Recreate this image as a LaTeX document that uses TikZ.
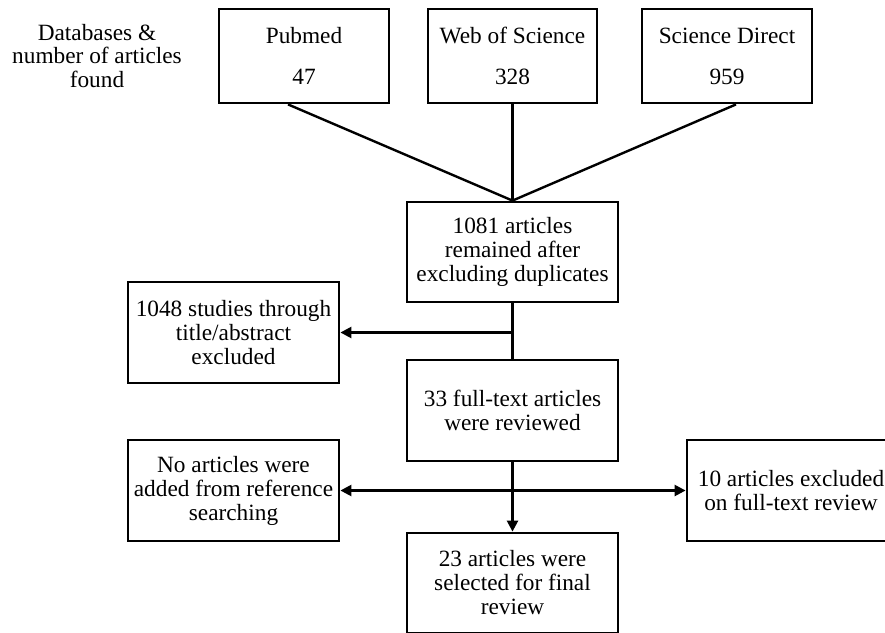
\documentclass[tikz,border=0pt]{standalone}
\usepackage{fontspec}
\setmainfont{Liberation Serif}
\usetikzlibrary{arrows.meta}
\begin{document}
\begin{tikzpicture}[x=1pt,y=-1pt,
  box/.style={draw=black,line width=2.8pt,rectangle,align=center,inner sep=0pt,
    font=\fontsize{23.3}{24}\selectfont,minimum width=211pt,minimum height=101pt},
  dbbox/.style={box,minimum width=170pt,minimum height=94pt},
  lbl/.style={align=center,font=\fontsize{23.3}{23.5}\selectfont,inner sep=0pt},
  conn/.style={line width=2.4pt},
  arr/.style={line width=2.4pt,-{Triangle[length=11pt,width=11pt]}},
  darr/.style={line width=2.4pt,{Triangle[length=11pt,width=11pt]}-{Triangle[length=11pt,width=11pt]}}]
\useasboundingbox (0,0) rectangle (885,632);
\clip (0,0) rectangle (885,632);
\fill[white] (0,0) rectangle (885,632);

\node[lbl] (lab) at (97,56) {Databases \&\\number of articles\\found};
\node[dbbox] (pub) at (304,56) {Pubmed\\[17pt]47};
\node[dbbox,minimum width=169pt] (wos) at (512.5,56) {Web of Science\\[17pt]328};
\node[dbbox] (sd) at (727,56) {Science Direct\\[17pt]959};

\node[box,minimum height=100pt] (m) at (512.5,252) {1081 articles\\remained after\\excluding duplicates};
\node[box] (ex1) at (233.5,332.5) {1048 studies through\\title/abstract\\excluded};
\node[box] (ft) at (512.5,410.5) {33 full-text articles\\were reviewed};
\node[box] (no) at (233.5,490.5) {No articles were\\added from reference\\searching};
\node[box,minimum width=208pt] (ten) at (791,490.5) {10 articles excluded\\on full-text review};
\node[box,minimum height=100pt] (sel) at (512.5,583) {23 articles were\\selected for final\\review};

\draw[conn] ([xshift=-16pt]pub.south) -- (m.north);
\draw[conn] (wos.south) -- (m.north);
\draw[conn] ([xshift=9pt]sd.south) -- (m.north);
\draw[conn] (m.south) -- (ft.north);
\draw[arr] (ex1.east -| m.south) -- (ex1.east);
\draw[arr] (ft.south) -- (sel.north);
\draw[darr] (no.east) -- (ten.west);
\end{tikzpicture}
\end{document}
